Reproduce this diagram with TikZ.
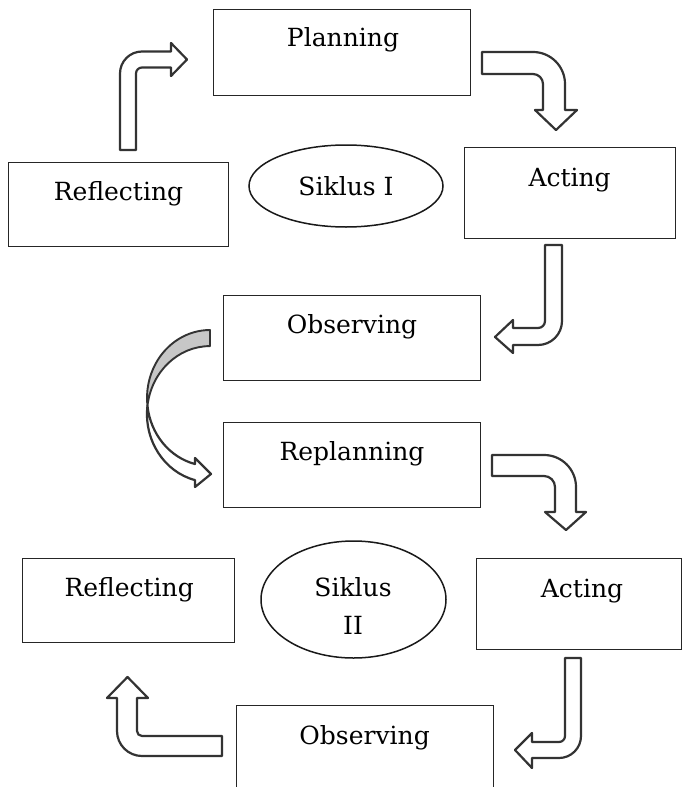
\documentclass[tikz,border=0pt]{standalone}
\usepackage{fontspec}
\setmainfont{DejaVu Serif}
\usetikzlibrary{shapes.geometric}
\begin{document}
\begin{tikzpicture}[x=1pt,y=-1pt,
  box/.style={draw=black!85, line width=1pt, rectangle, inner sep=0pt},
  oval/.style={draw=black!90, line width=1.5pt, ellipse, inner sep=0pt},
  lbl/.style={font=\fontsize{25}{30}\selectfont, inner sep=0pt, anchor=base, text=black},
  barrow/.style={draw=black!80, line width=2.2pt, fill=white, line join=round},
  backside/.style={draw=black!80, line width=1.9pt, fill=black!22, line join=round},
]
\clip (0,0) rectangle (682,787);
\fill[white] (0,0) rectangle (682,787);

% boxes
\node[box, minimum width=257pt, minimum height=86pt] (plan) at (341.5,52) {};
\node[box, minimum width=220pt, minimum height=84pt] (refl1) at (118,204) {};
\node[oval, minimum width=194pt, minimum height=82pt] (sik1) at (346,186) {};
\node[box, minimum width=211pt, minimum height=91pt] (act1) at (569.5,192.5) {};
\node[box, minimum width=256.5pt, minimum height=85pt] (obs1) at (351.75,337.5) {};
\node[box, minimum width=256.5pt, minimum height=85pt] (replan) at (351.75,464.5) {};
\node[box, minimum width=211.4pt, minimum height=84pt] (refl2) at (128.3,600) {};
\node[oval, minimum width=185pt, minimum height=117pt] (sik2) at (353.5,599.5) {};
\node[box, minimum width=205pt, minimum height=91pt] (act2) at (578.5,604) {};
\node[box, minimum width=256.5pt, minimum height=120pt] (obs2) at (364.75,765) {};

% labels
\node[lbl] (planT) at (343,46.7) {Planning};
\node[lbl] (refl1T) at (118.5,200.5) {Reflecting};
\node[lbl] (sik1T) at (346,195) {Siklus I};
\node[lbl] (act1T) at (569.6,186.5) {Acting};
\node[lbl] (obs1T) at (352,333.5) {Observing};
\node[lbl] (replanT) at (352,460) {Replanning};
\node[lbl] (refl2T) at (129.2,596.7) {Reflecting};
\node[lbl] (sik2a) at (353,596.7) {Siklus};
\node[lbl] (sik2b) at (353,634) {II};
\node[lbl] (act2T) at (582,597) {Acting};
\node[lbl] (obs2T) at (364.6,744) {Observing};

% arrow Reflecting -> Planning (up then right)
\draw[barrow] (120,150) -- (120,73.5) arc[start angle=180, end angle=270, radius=22]
  -- (171,51.5) -- (171,43) -- (187,59.5) -- (171,76) -- (171,67.5) -- (142,67.5)
  arc[start angle=270, end angle=180, radius=6] -- (136,150) -- cycle;

% arrow Planning -> Acting (right then down)
\draw[barrow] (482,52) -- (533,52) arc[start angle=270, end angle=360, radius=32]
  -- (565,110) -- (577,110) -- (556,130) -- (535,110) -- (543,110) -- (543,84)
  arc[start angle=0, end angle=-90, radius=10] -- (482,74) -- cycle;

% arrow Acting -> Observing (down then left)
\draw[barrow] (545,245) -- (562,245) -- (562,321) arc[start angle=0, end angle=90, radius=24]
  -- (513,345) -- (513,353) -- (495,337) -- (513,320) -- (513,328) -- (538,328)
  arc[start angle=90, end angle=0, radius=7] -- cycle;

% curved arrow Observing -> Replanning
\draw[backside] (210,330) arc[start angle=270, end angle=173.2, x radius=63, y radius=68]
  arc[start angle=186.8, end angle=270, x radius=63, y radius=68] -- cycle;
\draw[barrow] (147.44,406) arc[start angle=186.8, end angle=103.8, x radius=63, y radius=68]
  -- (195,487) -- (211,474) -- (195,458) -- (195,464.04)
  arc[start angle=103.8, end angle=173.2, x radius=63, y radius=68] -- cycle;

% arrow Replanning -> Acting II (right then down)
\draw[barrow] (492,455) -- (544,455) arc[start angle=270, end angle=360, radius=32]
  -- (576,512) -- (586,512) -- (566,530) -- (545,512) -- (555,512) -- (555,487)
  arc[start angle=0, end angle=-90, radius=11] -- (492,476) -- cycle;

% arrow Acting II -> Observing II (down then left)
\draw[barrow] (565,658) -- (581,658) -- (581,736) arc[start angle=0, end angle=90, radius=22]
  -- (532,758) -- (532,768) -- (515,750) -- (532,733) -- (532,742) -- (559,742)
  arc[start angle=90, end angle=0, radius=6] -- cycle;

% arrow Observing II -> Reflecting II (left then up)
\draw[barrow] (222,756) -- (142,756) arc[start angle=90, end angle=180, radius=25]
  -- (117,698) -- (107,698) -- (127.5,677) -- (148,698) -- (137,698) -- (137,731)
  arc[start angle=180, end angle=90, radius=5] -- (222,736) -- cycle;
\end{tikzpicture}
\end{document}
